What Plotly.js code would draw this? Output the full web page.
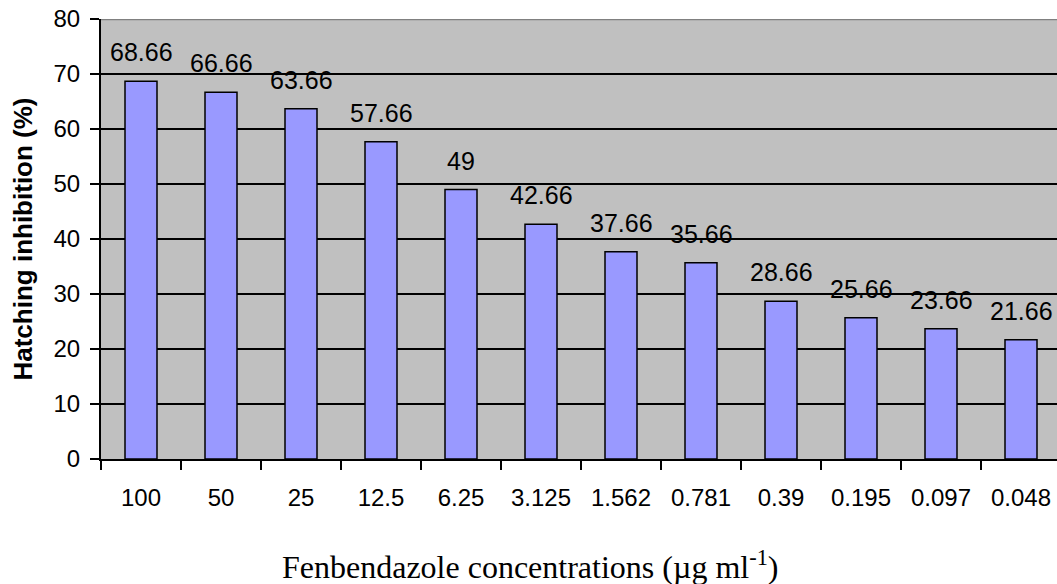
<!DOCTYPE html>
<html>
<head>
<meta charset="utf-8">
<script src="https://cdn.plot.ly/plotly-3.0.1.min.js"></script>
<style>
html,body{margin:0;padding:0;overflow:hidden;background:#fff;}
#chart{width:1061px;height:584px;}
</style>
</head>
<body>
<div id="chart"></div>
<script>
const concentrations = ["100","50","25","12.5","6.25","3.125","1.562","0.781","0.39","0.195","0.097","0.048"];
const inhibition = [68.66,66.66,63.66,57.66,49,42.66,37.66,35.66,28.66,25.66,23.66,21.66];
const yTicks = [0,10,20,30,40,50,60,70,80];

const trace = {
  type: 'bar',
  x: concentrations,
  y: inhibition,
  marker: {color: '#9999FF', line: {color: '#000000', width: 1.5}},
  hoverinfo: 'none'
};

const labels = concentrations.map((c, i) => ({
  x: i, y: inhibition[i], xref: 'x', yref: 'y',
  text: String(inhibition[i]), showarrow: false,
  yanchor: 'bottom', xanchor: 'center', yshift: 13,
  font: {family: 'Liberation Sans, Arial, sans-serif', size: 25, color: '#000'}
}));

labels.push({
  xref: 'paper', yref: 'paper', x: (530-101)/960, y: 0,
  yshift: -106, xanchor: 'center', yanchor: 'middle', showarrow: false,
  text: 'Fenbendazole concentrations (µg ml<sup>-1</sup>)',
  font: {family: 'Liberation Serif, Times New Roman, serif', size: 32, color: '#000'}
});

const layout = {
  width: 1061, height: 584,
  margin: {l: 101, r: 0, t: 19, b: 125},
  paper_bgcolor: '#ffffff',
  plot_bgcolor: '#C0C0C0',
  bargap: 0.6,
  showlegend: false,
  font: {family: 'Liberation Sans, Arial, sans-serif', size: 24, color: '#000'},
  xaxis: {
    type: 'category',
    range: [-0.5, 11.5],
    tickson: 'boundaries',
    ticks: 'outside', ticklen: 9, tickwidth: 2, tickcolor: '#000',
    showline: true, linecolor: '#000', linewidth: 2,
    showgrid: false, zeroline: false,
    ticklabelstandoff: 16,
    tickfont: {size: 24}
  },
  yaxis: {
    range: [0, 80],
    tickvals: yTicks,
    ticktext: yTicks.map(String),
    ticks: 'outside', ticklen: 9, tickwidth: 2, tickcolor: '#000',
    showline: true, linecolor: '#000', linewidth: 2,
    showgrid: true, gridcolor: '#000', gridwidth: 2,
    zeroline: false,
    ticklabelstandoff: 5,
    tickfont: {size: 24},
    title: {text: '<b>Hatching inhibition (%)</b>', font: {size: 26}, standoff: 13}
  },
  shapes: [{
    type: 'line', xref: 'paper', yref: 'y', x0: 0, x1: 1, y0: 80, y1: 80,
    line: {color: '#808080', width: 2.5}
  }],
  annotations: labels
};

Plotly.newPlot('chart', [trace], layout, {displayModeBar: false, staticPlot: true});
</script>
</body>
</html>
